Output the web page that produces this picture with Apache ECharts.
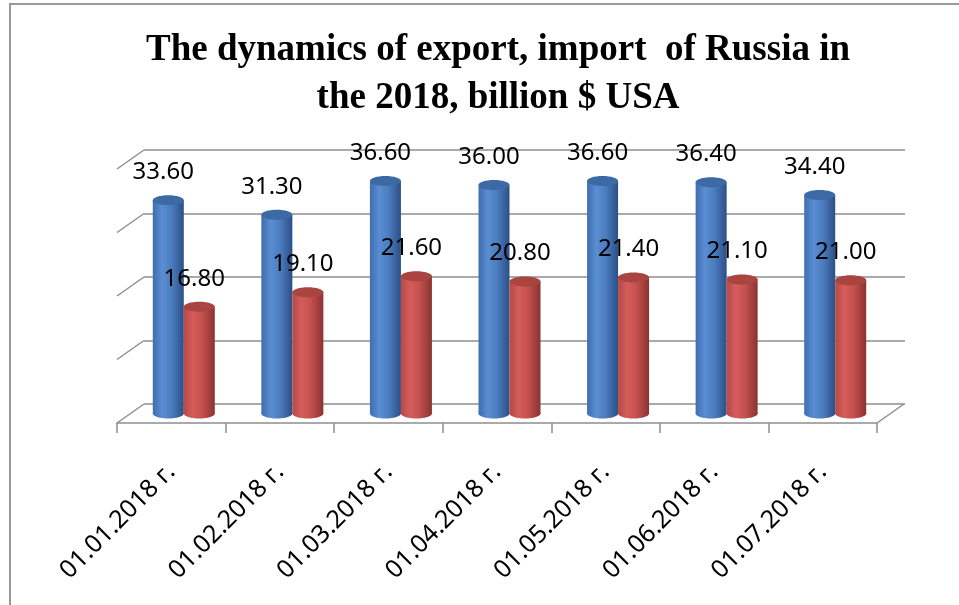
<!DOCTYPE html>
<html>
<head>
<meta charset="utf-8">
<script src="https://cdn.jsdelivr.net/npm/echarts@6/dist/echarts.min.js"></script>
<style>
  html, body { margin: 0; padding: 0; background: #fff; }
  #chart { width: 959px; height: 605px; }
</style>
</head>
<body>
<div id="chart"></div>
<script>
// Monthly snapshots, billion $ USA
const categories = ['01.01.2018 г.', '01.02.2018 г.', '01.03.2018 г.', '01.04.2018 г.', '01.05.2018 г.', '01.06.2018 г.', '01.07.2018 г.'];
const exportValues = [33.6, 31.3, 36.6, 36.0, 36.6, 36.4, 34.4];
const importValues = [16.8, 19.1, 21.6, 20.8, 21.4, 21.1, 21.0];
const wallTicks = [0, 10, 20, 30, 40];

// Depth of the pseudo-3D floor (front edge -> back wall), in pixels
const DEPTH_X = 27;
const DEPTH_Y = 19;
const BAR_W = 31;
const GRID_COLOR = '#8e8e8e';

const blueBody = [
  { offset: 0, color: '#3f6db0' },
  { offset: 0.3, color: '#5a8dd2' },
  { offset: 0.6, color: '#4b7dc0' },
  { offset: 1, color: '#2c4f86' }
];
const redBody = [
  { offset: 0, color: '#b64946' },
  { offset: 0.3, color: '#d55d5a' },
  { offset: 0.6, color: '#c4504d' },
  { offset: 1, color: '#8a3331' }
];

// Cylinder drawn at mid depth of the floor; side = -1 (left of pair) or +1 (right)
function cylinder(side, body, topColor) {
  return function (params, api) {
    const idx = api.value(0);
    const val = api.value(1);
    const base = api.coord([idx, 0]);
    const head = api.coord([idx, val]);
    const cx = base[0] + DEPTH_X / 2 + side * (BAR_W / 2) - 1;
    const by = base[1] - DEPTH_Y / 2;
    const ty = head[1] - DEPTH_Y / 2;
    const rx = BAR_W / 2;
    const ry = 5;
    const fill = new echarts.graphic.LinearGradient(0, 0, 1, 0, body);
    return {
      type: 'group',
      children: [
        { type: 'ellipse', shape: { cx: cx, cy: by, rx: rx, ry: ry }, style: { fill: fill } },
        { type: 'rect', shape: { x: cx - rx, y: ty, width: BAR_W, height: by - ty }, style: { fill: fill } },
        { type: 'ellipse', shape: { cx: cx, cy: ty, rx: rx, ry: ry }, style: { fill: topColor } },
        {
          type: 'text',
          x: cx - 5,
          y: ty - 28,
          z2: 10,
          style: {
            text: val.toFixed(2),
            fill: '#000',
            fontSize: 24,
            fontFamily: '"Noto Sans", sans-serif',
            align: 'center',
            verticalAlign: 'middle'
          }
        }
      ]
    };
  };
}

// Side-wall diagonals joining the front edge to each wall gridline, plus right floor edge
function wallEdges(params, api) {
  const v = api.value(1);
  const p = api.coord([0, v]);
  const w = api.size([1, 0])[0];
  const x0 = p[0] - w / 2;
  const style = { stroke: GRID_COLOR, lineWidth: 1.5 };
  const children = [
    { type: 'line', shape: { x1: x0, y1: p[1], x2: x0 + DEPTH_X, y2: p[1] - DEPTH_Y }, style: style }
  ];
  if (v === 0) {
    const xr = api.coord([categories.length - 1, 0])[0] + w / 2;
    children.push({ type: 'line', shape: { x1: xr, y1: p[1], x2: xr + DEPTH_X, y2: p[1] - DEPTH_Y }, style: style });
  }
  return { type: 'group', children: children };
}

const chart = echarts.init(document.getElementById('chart'));
chart.setOption({
  backgroundColor: '#fff',
  animation: false,
  title: {
    text: 'The dynamics of export, import  of Russia in\nthe 2018, billion $ USA',
    left: 493,
    top: 21,
    textAlign: 'center',
    textStyle: {
      fontFamily: '"Liberation Serif", serif',
      fontWeight: 'bold',
      fontSize: 37,
      lineHeight: 48,
      color: '#000'
    }
  },
  graphic: [
    {
      type: 'polyline',
      shape: { points: [[10, 605], [10, 4], [959, 4]] },
      style: { stroke: '#999', lineWidth: 2, fill: null },
      silent: true
    }
  ],
  grid: [
    { left: 117, right: 82, top: 169, bottom: 182 },
    { left: 144, right: 54, top: 150, bottom: 201 }
  ],
  xAxis: [
    {
      type: 'category',
      gridIndex: 0,
      data: categories,
      axisLine: { lineStyle: { color: GRID_COLOR, width: 1.5 } },
      axisTick: { show: true, length: 10, lineStyle: { color: GRID_COLOR, width: 1.5 } },
      axisLabel: {
        interval: 0,
        rotate: 45,
        margin: 45,
        fontSize: 25,
        fontFamily: '"Noto Sans", sans-serif',
        color: '#000'
      },
      splitLine: { show: false }
    },
    { type: 'category', gridIndex: 1, data: categories, show: false }
  ],
  yAxis: [
    { type: 'value', gridIndex: 0, min: 0, max: 40, interval: 10, show: false },
    {
      type: 'value',
      gridIndex: 1,
      min: 0,
      max: 40,
      interval: 10,
      axisLine: { show: false },
      axisTick: { show: false },
      axisLabel: { show: false },
      splitLine: { show: true, lineStyle: { color: GRID_COLOR, width: 1.5 } }
    }
  ],
  series: [
    {
      type: 'custom',
      name: 'walls',
      xAxisIndex: 0,
      yAxisIndex: 0,
      encode: { x: 0, y: 1 },
      data: wallTicks.map(function (v) { return [0, v]; }),
      renderItem: wallEdges,
      silent: true
    },
    {
      type: 'custom',
      name: 'Export',
      xAxisIndex: 0,
      yAxisIndex: 0,
      encode: { x: 0, y: 1 },
      data: exportValues.map(function (v, i) { return [i, v]; }),
      renderItem: cylinder(-1, blueBody, '#3d69a5')
    },
    {
      type: 'custom',
      name: 'Import',
      xAxisIndex: 0,
      yAxisIndex: 0,
      encode: { x: 0, y: 1 },
      data: importValues.map(function (v, i) { return [i, v]; }),
      renderItem: cylinder(1, redBody, '#a94441')
    }
  ]
});
</script>
</body>
</html>
